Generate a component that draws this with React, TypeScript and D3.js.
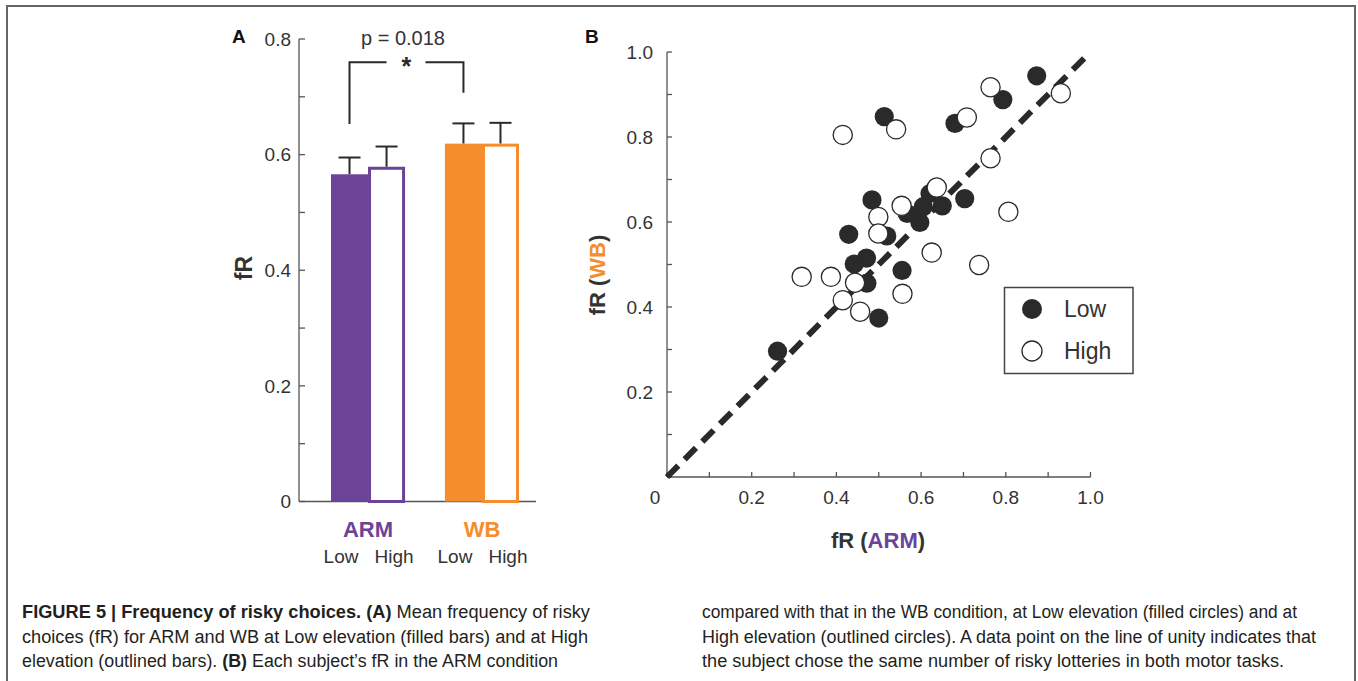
import React from "react";
import * as d3 from "d3";

// ---------- Panel A data ----------
const groups = ["ARM", "WB"];
const levels = ["Low", "High"];
const armMeans = [0.566, 0.579];
const wbMeans = [0.619, 0.619];
const armSEM = [0.029, 0.035];
const wbSEM = [0.035, 0.036];
const yTicksA = [0, 0.2, 0.4, 0.6, 0.8];
const yMinorA = [0.1, 0.3, 0.5, 0.7];
const bracketVals = [0.653, 0.76, 0.707]; // left foot, top, right foot
const pLabel = "p = 0.018";

// ---------- Panel B data ----------
const lowARM = [0.873, 0.793, 0.513, 0.68, 0.703, 0.484, 0.429, 0.519, 0.621, 0.605, 0.65, 0.597, 0.567, 0.442, 0.471, 0.472, 0.555, 0.5, 0.261];
const lowWB = [0.944, 0.888, 0.848, 0.832, 0.655, 0.652, 0.571, 0.567, 0.667, 0.636, 0.638, 0.599, 0.62, 0.501, 0.515, 0.456, 0.486, 0.374, 0.296];
const highARM = [0.415, 0.541, 0.708, 0.764, 0.93, 0.764, 0.806, 0.637, 0.554, 0.499, 0.499, 0.625, 0.737, 0.318, 0.387, 0.444, 0.415, 0.456, 0.556];
const highWB = [0.805, 0.818, 0.846, 0.917, 0.903, 0.75, 0.624, 0.681, 0.638, 0.612, 0.573, 0.528, 0.499, 0.471, 0.471, 0.457, 0.416, 0.389, 0.431];
const ticksB = [0, 0.2, 0.4, 0.6, 0.8, 1.0];
const minorB = [0.1, 0.3, 0.5, 0.7, 0.9];
const unity = [0, 1];

const PURPLE = "#6b4397";
const ORANGE = "#f68d2c";
const INK = "#2a2a2a";
const AXIS = "#555";
const TXT = "#333";
const FONT = "'Liberation Sans', Arial, Helvetica, sans-serif";
const CAPFONT = "'Liberation Sans Narrow', 'Arial Narrow', 'Liberation Sans', Arial, sans-serif";

export default function App() {
  // Panel A scales
  const yA = d3.scaleLinear().domain([0, 0.8]).range([501.5, 39]);
  const xG = d3.scaleBand().domain(groups).range([331, 519]).paddingInner(0.35).paddingOuter(0);
  const xL = d3.scaleBand().domain(levels).range([0, xG.bandwidth()]).padding(0);
  const axA = 299;
  const colors: Record<string, string> = { ARM: PURPLE, WB: ORANGE };
  const means: Record<string, number[]> = { ARM: armMeans, WB: wbMeans };
  const sems: Record<string, number[]> = { ARM: armSEM, WB: wbSEM };

  // Panel B scales
  const xB = d3.scaleLinear().domain([0, 1]).range([667, 1090.5]);
  const yB = d3.scaleLinear().domain([0, 1]).range([477, 52]);
  const unityPath = d3.line<number>().x((d) => xB(d)).y((d) => yB(d))(unity) || "";

  const lowPts = lowARM.map((x, i) => [x, lowWB[i]]);
  const highPts = highARM.map((x, i) => [x, highWB[i]]);

  const armCenter = (xG("ARM") as number) + xL("Low")! + xL.bandwidth() / 2;
  const wbCenter = (xG("WB") as number) + xL("Low")! + xL.bandwidth() / 2;

  return (
    <svg width={1358} height={681} style={{ position: "fixed", left: 0, top: 0, background: "#fff" }} fontFamily={FONT}>
      <rect x={0} y={0} width={1358} height={681} fill="#fff" />
      {/* frame */}
      <path d="M7,690 L7,6 L1355,6 L1355,690" fill="none" stroke="#666" strokeWidth={2} />

      {/* ---------- Panel A ---------- */}
      <text x={232} y={43} fontSize={19} fontWeight="bold" fill="#111">A</text>
      <line x1={axA} x2={axA} y1={yA(0.8)} y2={yA(0)} stroke={AXIS} strokeWidth={1.3} />
      <line x1={axA} x2={536} y1={yA(0)} y2={yA(0)} stroke={AXIS} strokeWidth={1.3} />
      {yTicksA.map((t) => (
        <g key={"ta" + t}>
          <line x1={axA} x2={axA + 6} y1={yA(t)} y2={yA(t)} stroke={AXIS} strokeWidth={1.3} />
          <text x={291} y={yA(t)} dy="0.36em" textAnchor="end" fontSize={19} fill={TXT}>
            {t === 0 ? "0" : t.toFixed(1)}
          </text>
        </g>
      ))}
      {yMinorA.map((t) => (
        <line key={"ma" + t} x1={axA} x2={axA + 6} y1={yA(t)} y2={yA(t)} stroke={AXIS} strokeWidth={1.3} />
      ))}
      <text transform="translate(244,268) rotate(-90)" textAnchor="middle" dominantBaseline="central" fontSize={23} fontWeight="bold" fill={TXT}>
        fR
      </text>

      {/* bars */}
      {groups.map((g) =>
        levels.map((lv, i) => {
          const x0 = (xG(g) as number) + (xL(lv) as number);
          const w = xL.bandwidth();
          const v = means[g][i];
          const filled = lv === "Low";
          const cx = x0 + w / 2;
          const top = yA(v + sems[g][i]);
          return (
            <g key={g + lv}>
              <line x1={cx} x2={cx} y1={yA(v)} y2={top} stroke={INK} strokeWidth={2} />
              <line x1={cx - 11} x2={cx + 11} y1={top} y2={top} stroke={INK} strokeWidth={2} />
              {filled ? (
                <rect x={x0} y={yA(v)} width={w} height={yA(0) - yA(v)} fill={colors[g]} />
              ) : (
                <rect x={x0 + 1.5} y={yA(v) + 1.5} width={w - 3} height={yA(0) - yA(v) - 1.5} fill="#fff" stroke={colors[g]} strokeWidth={3} />
              )}
            </g>
          );
        })
      )}

      {/* significance bracket */}
      <path
        d={`M${armCenter},${yA(bracketVals[0])} L${armCenter},${yA(bracketVals[1])} L${armCenter + 37},${yA(bracketVals[1])}`}
        fill="none" stroke={INK} strokeWidth={2}
      />
      <path
        d={`M${wbCenter - 38},${yA(bracketVals[1])} L${wbCenter},${yA(bracketVals[1])} L${wbCenter},${yA(bracketVals[2])}`}
        fill="none" stroke={INK} strokeWidth={2}
      />
      <text x={(armCenter + wbCenter) / 2} y={yA(bracketVals[1]) + 13} textAnchor="middle" fontSize={25} fontWeight="bold" fill={INK}>*</text>
      <text x={403} y={45} textAnchor="middle" fontSize={20} fill={TXT}>{pLabel}</text>

      {/* category labels */}
      {groups.map((g) => {
        const c = (xG(g) as number) + xG.bandwidth() / 2;
        return (
          <g key={"lab" + g}>
            <text x={c} y={537} textAnchor="middle" fontSize={22} fontWeight="bold" fill={colors[g]}>{g}</text>
            <text x={c - 27} y={563} textAnchor="middle" fontSize={19} fill={TXT}>{levels[0]}</text>
            <text x={c + 26} y={563} textAnchor="middle" fontSize={19} fill={TXT}>{levels[1]}</text>
          </g>
        );
      })}

      {/* ---------- Panel B ---------- */}
      <text x={585} y={43} fontSize={19} fontWeight="bold" fill="#111">B</text>
      <line x1={xB(0)} x2={xB(0)} y1={yB(0)} y2={yB(1)} stroke={AXIS} strokeWidth={1.3} />
      <line x1={xB(0)} x2={xB(1)} y1={yB(0)} y2={yB(0)} stroke={AXIS} strokeWidth={1.3} />
      {ticksB.concat(minorB).map((t) => (
        <g key={"tb" + t}>
          <line x1={xB(0)} x2={xB(0) + 5} y1={yB(t)} y2={yB(t)} stroke={AXIS} strokeWidth={1.3} />
          <line x1={xB(t)} x2={xB(t)} y1={yB(0)} y2={yB(0) - 5} stroke={AXIS} strokeWidth={1.3} />
        </g>
      ))}
      {ticksB.map((t) => (
        <g key={"lb" + t}>
          {t > 0 && (
            <text x={653} y={yB(t)} dy="0.36em" textAnchor="end" fontSize={19} fill={TXT}>{t.toFixed(1)}</text>
          )}
          <text x={t === 0 ? xB(t) - 12 : xB(t)} y={504} textAnchor="middle" fontSize={19} fill={TXT}>
            {t === 0 ? "0" : t.toFixed(1)}
          </text>
        </g>
      ))}
      <text x={878} y={548} textAnchor="middle" fontSize={22} fontWeight="bold" fill={TXT}>
        fR (<tspan fill={PURPLE}>ARM</tspan>)
      </text>
      <text transform="translate(605,275) rotate(-90)" textAnchor="middle" fontSize={22} fontWeight="bold" fill={TXT}>
        fR (<tspan fill={ORANGE}>WB</tspan>)
      </text>

      <path d={unityPath} fill="none" stroke={INK} strokeWidth={6} strokeDasharray="16 9" />
      {lowPts.map((p, i) => (
        <circle key={"l" + i} cx={xB(p[0])} cy={yB(p[1])} r={9.6} fill={INK} />
      ))}
      {highPts.map((p, i) => (
        <circle key={"h" + i} cx={xB(p[0])} cy={yB(p[1])} r={9.6} fill="#fff" stroke={INK} strokeWidth={1.3} />
      ))}

      {/* legend */}
      <rect x={1004.5} y={287.5} width={128.5} height={86} fill="#fff" stroke="#444" strokeWidth={1.5} />
      <circle cx={1032} cy={309} r={10} fill={INK} />
      <circle cx={1032} cy={351} r={10} fill="#fff" stroke={INK} strokeWidth={1.3} />
      <text x={1064} y={317} fontSize={23} fill={TXT}>Low</text>
      <text x={1064} y={359} fontSize={23} fill={TXT}>High</text>

      {/* ---------- Caption ---------- */}
      <g fontFamily={CAPFONT} fontSize={18} fill="#231f20">
        <text x={22} y={618} textLength={568} lengthAdjust="spacingAndGlyphs">
          <tspan fontWeight="bold">FIGURE 5 | Frequency of risky choices. (A)</tspan> Mean frequency of risky
        </text>
        <text x={22} y={643} textLength={566} lengthAdjust="spacingAndGlyphs">
          choices (fR) for ARM and WB at Low elevation (filled bars) and at High
        </text>
        <text x={22} y={667} textLength={536} lengthAdjust="spacingAndGlyphs">
          elevation (outlined bars). <tspan fontWeight="bold">(B)</tspan> Each subject’s fR in the ARM condition
        </text>
        <text x={702} y={618} textLength={595} lengthAdjust="spacingAndGlyphs">
          compared with that in the WB condition, at Low elevation (filled circles) and at
        </text>
        <text x={702} y={643} textLength={614} lengthAdjust="spacingAndGlyphs">
          High elevation (outlined circles). A data point on the line of unity indicates that
        </text>
        <text x={702} y={667} textLength={582} lengthAdjust="spacingAndGlyphs">
          the subject chose the same number of risky lotteries in both motor tasks.
        </text>
      </g>
    </svg>
  );
}
